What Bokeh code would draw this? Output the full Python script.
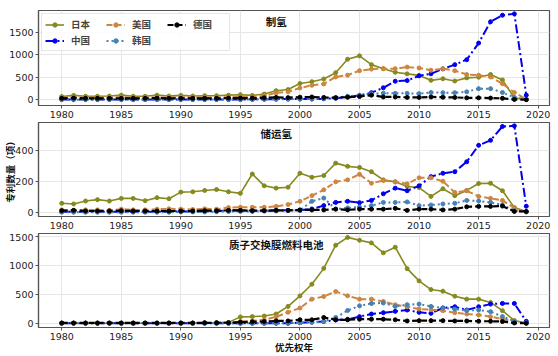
from bokeh.plotting import figure
from bokeh.layouts import column
from bokeh.models import Range1d, Label, Legend, LegendItem, FixedTicker
from bokeh.embed import file_html
from bokeh.resources import INLINE

years = list(range(1980, 2020))
countries = ["日本", "中国", "美国", "韩国", "德国"]
panel_titles = ["制氢", "储运氢", "质子交换膜燃料电池"]
y_label = "专利数量（项）"
x_label = "优先权年"

# 制氢
h_jp = [70, 95, 75, 75, 80, 100, 75, 75, 100, 80, 95, 80, 88, 88, 100, 110, 95, 125, 200, 225,
        360, 400, 460, 600, 900, 975, 780, 690, 610, 575, 540, 430, 465, 415, 485, 500, 560, 440, 40, 5]
h_cn = [5, 5, 5, 5, 5, 5, 5, 5, 5, 5, 5, 5, 5, 5, 5, 5, 8, 10, 12, 15,
        15, 15, 20, 30, 60, 95, 155, 265, 410, 425, 530, 575, 685, 780, 890, 1260, 1735, 1880, 1910, 100]
h_us = [45, 55, 45, 50, 50, 55, 45, 45, 50, 50, 55, 50, 50, 45, 55, 60, 60, 85, 150, 175,
        260, 320, 350, 505, 545, 645, 680, 690, 690, 725, 705, 655, 690, 645, 560, 545, 505, 355, 160, 5]
h_kr = [0, 0, 0, 0, 0, 0, 0, 0, 0, 0, 2, 2, 2, 3, 3, 5, 5, 8, 10, 10,
        15, 15, 25, 45, 75, 100, 130, 145, 140, 140, 135, 160, 155, 155, 175, 245, 245, 160, 50, 5]
h_de = [30, 35, 30, 30, 30, 30, 30, 30, 35, 30, 30, 30, 30, 30, 35, 35, 35, 40, 50, 45,
        55, 60, 50, 45, 55, 70, 100, 60, 60, 50, 50, 60, 55, 50, 40, 40, 35, 30, 5, 0]

# 储运氢
s_jp = [58, 54, 73, 82, 73, 90, 90, 75, 95, 88, 131, 133, 142, 148, 133, 123, 249, 172, 157, 163,
        254, 228, 239, 320, 299, 292, 264, 211, 198, 168, 161, 103, 153, 108, 142, 187, 189, 140, 30, 5]
s_cn = [3, 3, 3, 3, 3, 3, 3, 3, 3, 3, 5, 5, 5, 8, 10, 12, 10, 10, 12, 12,
        12, 21, 43, 64, 71, 62, 77, 120, 157, 140, 172, 232, 254, 264, 329, 436, 469, 559, 563, 39]
s_us = [15, 12, 15, 15, 12, 20, 15, 15, 20, 22, 20, 18, 22, 20, 30, 32, 32, 32, 38, 50,
        71, 108, 146, 198, 211, 247, 189, 206, 198, 185, 224, 224, 202, 129, 140, 103, 90, 77, 28, 2]
s_kr = [0, 0, 0, 0, 0, 0, 0, 0, 0, 0, 2, 2, 2, 3, 5, 5, 5, 8, 8, 10,
        12, 71, 92, 21, 28, 34, 43, 64, 64, 67, 43, 47, 54, 58, 77, 73, 64, 47, 10, 2]
s_de = [10, 12, 8, 8, 8, 10, 8, 8, 8, 8, 8, 8, 10, 10, 12, 12, 10, 10, 12, 12,
        15, 15, 15, 20, 15, 20, 20, 20, 25, 12, 20, 20, 15, 20, 35, 38, 38, 40, 5, 5]

# 质子交换膜燃料电池
f_jp = [0, 0, 0, 0, 0, 0, 0, 0, 0, 0, 0, 0, 10, 12, 15, 110, 115, 125, 160, 290,
        472, 673, 946, 1345, 1480, 1431, 1385, 1214, 1311, 941, 730, 581, 553, 467, 416, 416, 359, 217, 46, 5]
f_cn = [0, 0, 0, 0, 0, 0, 0, 0, 0, 0, 0, 0, 0, 0, 0, 0, 0, 0, 0, 0,
        10, 20, 30, 57, 68, 114, 159, 182, 205, 228, 188, 171, 262, 285, 228, 285, 330, 342, 342, 34]
f_us = [0, 0, 0, 0, 0, 0, 0, 0, 0, 0, 0, 0, 5, 5, 10, 30, 40, 60, 110, 190,
        262, 416, 461, 547, 473, 416, 416, 376, 319, 285, 245, 233, 217, 182, 159, 142, 114, 74, 28, 6]
f_kr = [0, 0, 0, 0, 0, 0, 0, 0, 0, 0, 0, 0, 0, 0, 0, 0, 0, 0, 0, 0,
        10, 15, 30, 100, 220, 300, 340, 350, 290, 320, 330, 290, 265, 245, 220, 230, 200, 115, 35, 2]
f_de = [5, 5, 5, 5, 5, 5, 5, 5, 5, 5, 5, 5, 8, 8, 10, 20, 25, 30, 40, 40,
        60, 60, 100, 60, 60, 70, 70, 70, 60, 40, 45, 45, 45, 40, 40, 35, 35, 30, 5, 0]

panels = [
    dict(series=[h_jp, h_cn, h_us, h_kr, h_de], yr=(-130, 1985), ticks=[0, 500, 1000, 1500],
         title_y=1743, top=10, bottom=17, height=122),
    dict(series=[s_jp, s_cn, s_us, s_kr, s_de], yr=(-28, 585), ticks=[0, 200, 400],
         title_y=514, top=0, bottom=17, height=111),
    dict(series=[f_jp, f_cn, f_us, f_kr, f_de], yr=(-73, 1547), ticks=[0, 500, 1000, 1500],
         title_y=1360, top=0, bottom=28, height=123),
]

styles = [
    dict(color="#868a1e", dash="solid", width=1.6),
    dict(color="#0000ee", dash="9 3 2 3", width=2.0),
    dict(color="#cd853f", dash="6 3", width=2.0),
    dict(color="#4682b4", dash="2 3", width=2.0),
    dict(color="#000000", dash="6 3", width=2.2),
]

FONT = "DejaVu Sans"
CJK = "Noto Sans CJK SC"
xr = Range1d(1978.05, 2020.95)

figs = []
for i, pan in enumerate(panels):
    p = figure(width=558, height=pan["height"], output_backend="svg", toolbar_location=None,
               x_range=xr, y_range=Range1d(*pan["yr"]),
               min_border_left=37, min_border_right=9,
               min_border_top=pan["top"], min_border_bottom=pan["bottom"])
    p.outline_line_color = "#555555"
    p.outline_line_width = 1.2
    p.background_fill_color = "white"
    p.border_fill_color = "white"
    for ax in (p.xaxis[0], p.yaxis[0]):
        ax.axis_line_color = "#555555"
        ax.axis_line_width = 1.2
        ax.major_tick_line_color = "#555555"
        ax.major_tick_out = 3
        ax.major_tick_in = 0
        ax.minor_tick_line_color = None
        ax.major_label_text_font = FONT
        ax.major_label_text_font_size = "9.5px"
        ax.major_label_text_color = "#222222"
        ax.major_label_standoff = 2
        ax.axis_label_text_font = CJK
        ax.axis_label_text_font_style = "bold"
        ax.axis_label_text_font_size = "9.5px"
        ax.axis_label_text_color = "#111111"
    p.xaxis.ticker = FixedTicker(ticks=[1980, 1985, 1990, 1995, 2000, 2005, 2010, 2015, 2020])
    p.yaxis.ticker = FixedTicker(ticks=pan["ticks"])
    p.xgrid.ticker = p.xaxis.ticker
    p.ygrid.ticker = p.yaxis.ticker
    p.grid.grid_line_color = "#e6e6e6"
    p.grid.grid_line_width = 1

    items = []
    for name, vals, st in zip(countries, pan["series"], styles):
        ln = p.line(years, vals, line_color=st["color"], line_dash=st["dash"], line_width=st["width"])
        sc = p.scatter(years, vals, size=4, fill_color=st["color"], line_color=st["color"])
        items.append(LegendItem(label=name, renderers=[ln, sc]))

    p.add_layout(Label(x=1998, y=pan["title_y"], text=panel_titles[i], text_align="center",
                       text_baseline="middle", text_font=CJK, text_font_style="bold",
                       text_font_size="10.5px", text_color="#111111"))

    if i == 0:
        order = [0, 2, 4, 1, 3]
        leg = Legend(items=[items[k] for k in order], location="top_left",
                     orientation="horizontal", ncols=3)
        leg.margin = 3
        leg.padding = 3
        leg.spacing = 2
        leg.glyph_width = 19
        leg.glyph_height = 11
        leg.label_height = 11
        leg.label_width = 33
        leg.label_standoff = 7
        leg.label_text_font = CJK
        leg.label_text_font_style = "bold"
        leg.label_text_font_size = "9.5px"
        leg.border_line_color = "#cccccc"
        leg.background_fill_alpha = 0.85
        p.add_layout(leg, "center")
    if i == 1:
        p.yaxis.axis_label = y_label
        p.yaxis.axis_label_standoff = -5
    if i == 2:
        p.xaxis.axis_label = x_label
        p.xaxis.axis_label_standoff = -3
    figs.append(p)

layout = column(*figs, spacing=0)
open("out.html", "w").write(file_html(layout, INLINE))
